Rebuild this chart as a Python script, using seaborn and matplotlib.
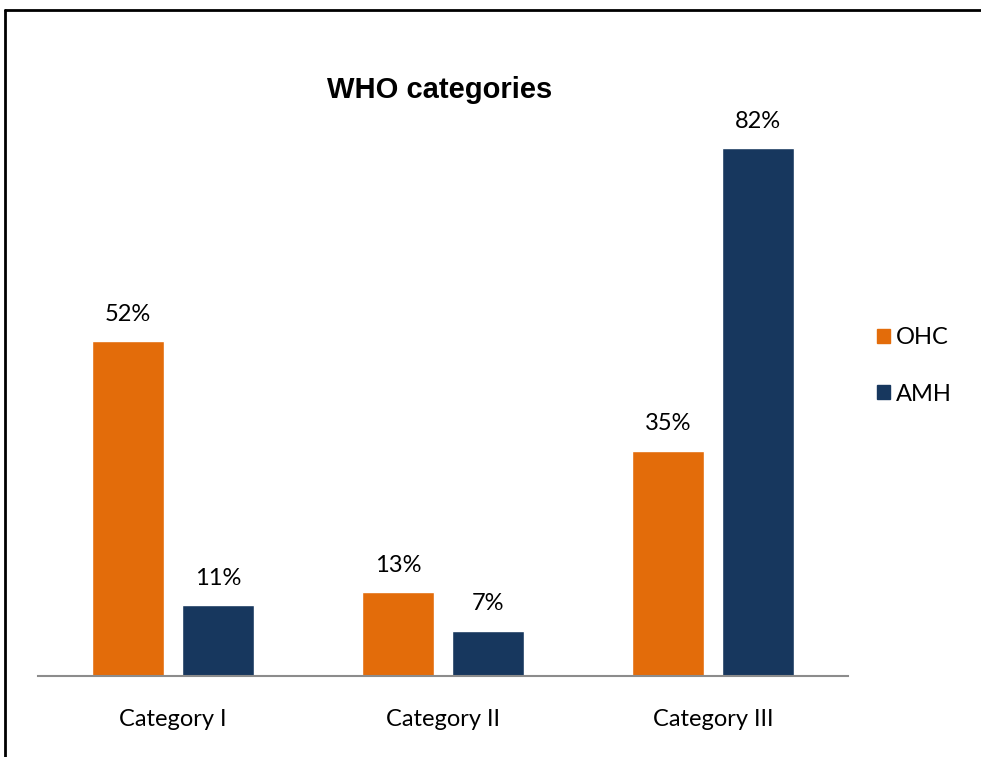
import pandas as pd
import matplotlib.pyplot as plt
import seaborn as sns
from matplotlib.lines import Line2D

categories = ['Category I', 'Category II', 'Category III']
groups = ['OHC', 'AMH']
ohc_values = [52, 13, 35]
amh_values = [11, 7, 82]
colors = {'OHC': '#E36C0A', 'AMH': '#17375E'}

df = pd.DataFrame({
    'category': categories * 2,
    'group': ['OHC'] * 3 + ['AMH'] * 3,
    'value': ohc_values + amh_values,
})

sns.set_style('white')
plt.rcParams['font.family'] = ['Lato', 'DejaVu Sans']
plt.rcParams['text.color'] = 'black'
plt.rcParams['xtick.color'] = 'black'

fig = plt.figure(figsize=(9.81, 7.57), dpi=100)
W, H = 981, 757
ax = fig.add_axes([38 / W, (H - 676) / H, (848 - 38) / W, (676 - 97) / H])

sns.barplot(data=df, x='category', y='value', hue='group', order=categories,
            hue_order=groups, palette=colors, width=0.663, gap=0.19,
            saturation=1, ax=ax, legend=False)

for container in ax.containers:
    ax.bar_label(container, labels=[f'{v:.0f}%' for v in container.datavalues],
                 padding=12, fontsize=17, color='black')

ax.set_xlim(-0.5, 2.5)
ax.set_ylim(0, 90)
ax.set_xlabel('')
ax.set_ylabel('')
ax.set_yticks([])
ax.tick_params(axis='x', length=0, pad=24, labelsize=17, labelcolor='black')
for s in ['top', 'right', 'left']:
    ax.spines[s].set_visible(False)
ax.spines['bottom'].set_color('#8c8c8c')
ax.spines['bottom'].set_linewidth(1.5)

fig.text(440 / W, 1 - 90 / H, 'WHO categories', ha='center', va='center',
         fontsize=21, fontweight='bold', family='Liberation Sans', color='black')

handles = [plt.Rectangle((0, 0), 1, 1, color=colors[g]) for g in groups]
fig.legend(handles, groups, loc='center left', bbox_to_anchor=(856 / W, 1 - 366 / H),
           frameon=False, fontsize=17, handlelength=0.55, handleheight=0.55,
           handletextpad=0.25, labelspacing=1.5)

# partial frame around the picture
fig.add_artist(Line2D([5 / W, 5 / W], [0, 1 - 10 / H], color='black', lw=2))
fig.add_artist(Line2D([5 / W, 1], [1 - 10 / H, 1 - 10 / H], color='black', lw=2))

fig.savefig('out.png', dpi=100)
